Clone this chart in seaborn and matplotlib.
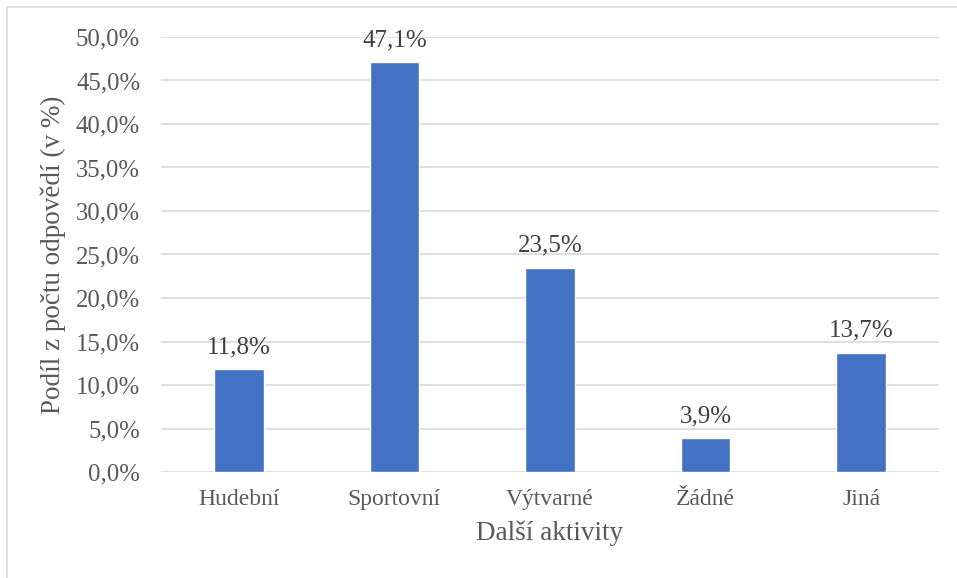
import matplotlib.pyplot as plt
import pandas as pd
import seaborn as sns
from matplotlib.patches import Rectangle

# data
categories = ['Hudební', 'Sportovní', 'Výtvarné', 'Žádné', 'Jiná']
values = [11.8, 47.1, 23.5, 3.9, 13.7]
yticks = [0, 5, 10, 15, 20, 25, 30, 35, 40, 45, 50]

df = pd.DataFrame({'aktivita': categories, 'podil': values})

sns.set_style('white')
plt.rcParams['font.family'] = ['Liberation Serif', 'DejaVu Serif']
txt = '#595959'
grid = '#D9D9D9'

fig = plt.figure(figsize=(9.57, 5.78), dpi=100)
ax = fig.add_axes([161/957, 1 - 472/578, (939 - 161)/957, (472 - 37)/578])

# outer chart frame
fig.patches.append(Rectangle((7/957, -0.05), 1.05, 1.05 - 7/578,
                             transform=fig.transFigure, fill=False,
                             edgecolor='#D9D9D9', linewidth=1.2))

sns.barplot(data=df, x='aktivita', y='podil', color='#4472C4', width=0.32,
            saturation=1, ax=ax, zorder=3)

ax.set_ylim(0, 50)
ax.set_xlim(-0.5, 4.5)
ax.set_yticks(yticks)
ax.set_yticklabels([f'{t:.1f}'.replace('.', ',') + '%' for t in yticks])
for y in yticks:
    ax.axhline(y, color=grid, linewidth=1.2, zorder=1)

for sp in ax.spines.values():
    sp.set_visible(False)
ax.tick_params(axis='both', length=0, colors=txt)
ax.tick_params(axis='x', pad=12, labelsize=17)
ax.tick_params(axis='y', pad=15, labelsize=17.8)

ax.bar_label(ax.containers[0],
             labels=[f'{v:.1f}'.replace('.', ',') + '%' for v in values],
             padding=8, fontsize=18, color='#404040')

ax.set_xlabel('Další aktivity', fontsize=19.5, color=txt, labelpad=8)
ax.set_ylabel('Podíl z počtu odpovědí (v %)', fontsize=19.5, color=txt, labelpad=7)

fig.savefig('out.png', dpi=100)
